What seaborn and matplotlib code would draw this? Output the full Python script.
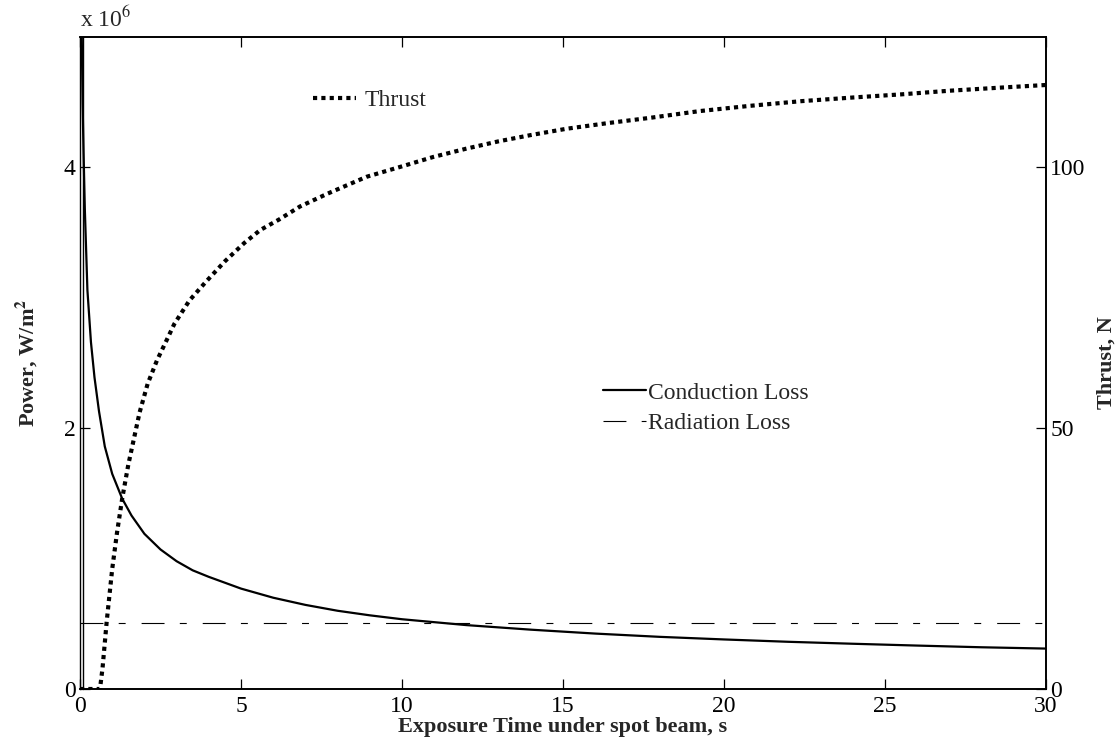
import matplotlib
matplotlib.use("Agg")
import matplotlib.pyplot as plt
from matplotlib.lines import Line2D
import seaborn as sns

# ---- data ----
cond_t = [0.04, 0.06, 0.08, 0.11, 0.15, 0.23, 0.34, 0.45, 0.59, 0.77, 1.0, 1.31,
          1.6, 2.0, 2.5, 3.0, 3.5, 4.0, 5.0, 6.0, 7.0, 8.0, 9.0, 10.0, 12.0,
          14.0, 16.0, 18.0, 20.0, 22.0, 24.0, 26.0, 28.0, 30.0]
cond_p = [5.3e6, 4.9e6, 4.5e6, 4.12e6, 3.68e6, 3.06e6, 2.66e6, 2.39e6, 2.13e6,
          1.86e6, 1.65e6, 1.46e6, 1.33e6, 1.19e6, 1.07e6, 0.98e6, 0.91e6,
          0.86e6, 0.77e6, 0.70e6, 0.645e6, 0.60e6, 0.565e6, 0.535e6, 0.49e6,
          0.455e6, 0.425e6, 0.40e6, 0.38e6, 0.362e6, 0.347e6, 0.333e6,
          0.32e6, 0.31e6]
rad_t = [0.0, 30.0]
rad_p = [0.505e6, 0.505e6]
thr_t = [0.0, 0.62, 0.7, 0.83, 1.0, 1.15, 1.31, 1.5, 1.85, 2.1, 2.39, 2.7, 2.93,
         3.4, 3.9, 4.5, 5.1, 5.6, 6.18, 6.83, 7.7, 8.9, 10.0, 10.97, 12.0,
         13.0, 14.0, 15.1, 16.4, 17.7, 19.25, 20.8, 22.4, 24.0, 25.5, 27.0,
         28.6, 30.0]
thr_n = [0.0, 0.0, 4.0, 13.0, 23.0, 30.0, 36.5, 43.0, 53.0, 58.5, 63.0, 67.0,
         70.0, 74.5, 78.0, 82.0, 85.5, 88.0, 90.0, 92.5, 95.0, 98.2, 100.2,
         102.0, 103.6, 105.0, 106.2, 107.4, 108.5, 109.5, 110.8, 111.8, 112.7,
         113.4, 114.0, 114.7, 115.3, 115.8]
x_ticks = [0, 5, 10, 15, 20, 25, 30]
yl_ticks = [0, 2e6, 4e6]
yl_labels = ["0", "2", "4"]
yr_ticks = [0, 50, 100]

sns.set_theme(style="white")
plt.rcParams["font.family"] = ["Liberation Serif", "DejaVu Serif"]
plt.rcParams["mathtext.fontset"] = "stix"
plt.rcParams["lines.scale_dashes"] = False

fig = plt.figure(figsize=(11.18, 7.49), dpi=100)
ax = fig.add_axes([80/1118, 1-689/749, (1046-80)/1118, (689-37)/749])
ax2 = ax.twinx()

sns.lineplot(x=cond_t, y=cond_p, ax=ax, color="black", lw=1.6,
             label="Conduction Loss", legend=False)
sns.lineplot(x=rad_t, y=rad_p, ax=ax, color="black", lw=0.8,
             label="Radiation Loss", legend=False)
ax.lines[1].set_dashes((16.5, 11, 5, 11.5))
sns.lineplot(x=thr_t, y=thr_n, ax=ax2, color="black", lw=3.0,
             label="Thrust", legend=False)
ax2.lines[0].set_dashes((3.0, 3.0))
ax2.lines[0].set_dash_capstyle("butt")

ax.set_xlim(0, 30)
ax.set_ylim(0, 5e6)
ax2.set_ylim(0, 125)
ax.set_xticks(x_ticks)
ax.set_xticklabels([str(v) for v in x_ticks])
ax.set_yticks(yl_ticks)
ax.set_yticklabels(yl_labels)
ax2.set_yticks(yr_ticks)
ax2.set_yticklabels([str(v) for v in yr_ticks])

fs = 17
ax.tick_params(axis="x", direction="in", length=7, width=0.9, labelsize=fs,
               top=True, bottom=True, pad=5, colors="black")
ax.tick_params(axis="y", direction="in", length=7, width=0.9, labelsize=fs,
               left=True, right=False, pad=3, colors="black")
ax2.tick_params(axis="y", direction="in", length=7, width=0.9, labelsize=fs,
                right=True, left=False, pad=3, colors="black")
for a in (ax, ax2):
    for s in a.spines.values():
        s.set_color("black")
        s.set_linewidth(1.2)
    a.grid(False)
ax2.spines["left"].set_visible(False)
ax.spines["left"].set_linewidth(1.0)
# second (inner) left axis line, as the two overlaid axes show it
ax.add_line(Line2D([0, 0], [0, 1], transform=ax.transAxes +
                   matplotlib.transforms.ScaledTranslation(2.5/100, 0, fig.dpi_scale_trans),
                   color="black", lw=1.0, clip_on=False))

ax.set_xlabel("Exposure Time under spot beam, s", fontsize=16, fontweight="bold",
              labelpad=0)
ax.set_ylabel(r"Power, W/m$^{\mathbf{2}}$", fontsize=16, fontweight="bold",
              labelpad=17)
ax2.set_ylabel("Thrust, N", fontsize=16, fontweight="bold", labelpad=8)

ax.text(0.0, 1.008, r"x 10$^{6}$", transform=ax.transAxes, fontsize=fs,
        ha="left", va="bottom")

leg1 = ax2.legend(handles=ax2.lines, loc="center left", frameon=False,
                  fontsize=fs, handlelength=1.8, handletextpad=0.4,
                  bbox_to_anchor=(313/1118, 1-100/749),
                  bbox_transform=fig.transFigure, borderpad=0, borderaxespad=0)
leg2 = ax2.legend(handles=ax.lines[:2], loc="center left", frameon=False,
                  fontsize=fs, handlelength=1.8, handletextpad=0.1,
                  labelspacing=0.38,
                  bbox_to_anchor=(603/1118, 1-408/749),
                  bbox_transform=fig.transFigure, borderpad=0, borderaxespad=0)
ax2.add_artist(leg1)

fig.savefig("out.png", dpi=100, facecolor="white")
